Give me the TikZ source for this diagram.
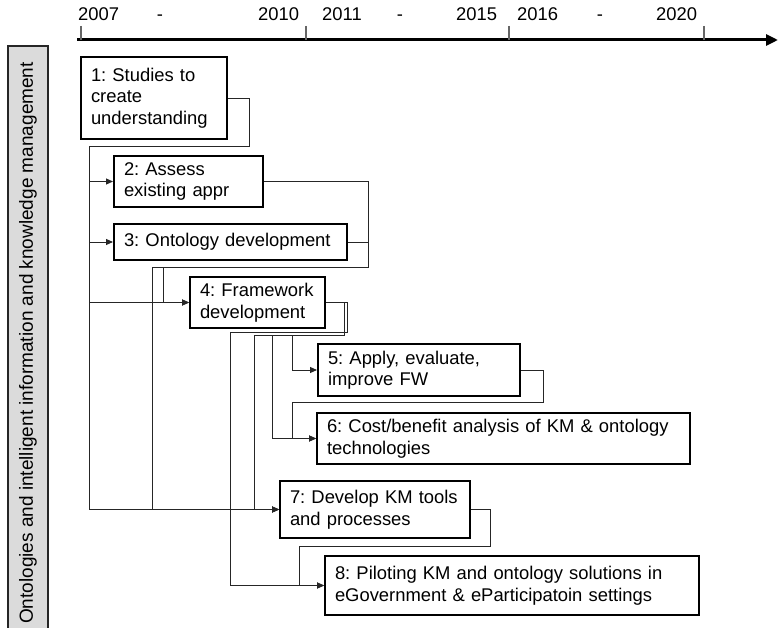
\documentclass[tikz,border=0pt]{standalone}
\usepackage{fontspec}
\setmainfont{Liberation Sans}
\usetikzlibrary{arrows.meta}
\begin{document}
\begin{tikzpicture}[x=1pt,y=-1pt,
  every node/.style={inner sep=0pt, font=\fontsize{18.4}{21.5}\selectfont},
  task/.style={draw=black, line width=2pt, fill=white, anchor=north west,
    align=left, inner xsep=10pt, inner ysep=0pt,
    execute at begin node={\frenchspacing\hyphenpenalty=10000\exhyphenpenalty=10000}},
  conn/.style={line width=0.9pt, draw=black!85},
  arr/.style={conn, -{Triangle[length=7pt,width=6pt]}},
  tickmark/.style={line width=1.6pt, draw=black!60},
  year/.style={anchor=base west},
  gap/.style={anchor=base},
  sidebar/.style={draw=black!85, line width=2pt, fill=black!14, rotate=90,
    minimum height=40pt, minimum width=594pt,
    font=\fontsize{19}{22}\selectfont}
]
\useasboundingbox (0,0) rectangle (778,628);
\clip (0,0) rectangle (778,628);

% time axis
\draw[line width=3pt, -{Triangle[length=12pt,width=11pt]}] (77,40) -- (778,40);
\foreach \x in {81,306,509,704} \draw[tickmark] (\x,26) -- (\x,40);
\node[year] (y2007) at (78,21) {2007};
\node[gap]  (g1)    at (160,21) {-};
\node[year] (y2010) at (258,21) {2010};
\node[year] (y2011) at (322,21) {2011};
\node[gap]  (g2)    at (400,21) {-};
\node[year] (y2015) at (456,21) {2015};
\node[year] (y2016) at (517,21) {2016};
\node[gap]  (g3)    at (600,21) {-};
\node[year] (y2020) at (656,21) {2020};

% research area label
\node[sidebar] (side) at (28,343) {Ontologies and intelligent information and knowledge management};

% tasks
\node[task, text width=126pt, minimum height=82pt] (b1) at (80,56)
  {1: Studies to\\create\\understanding};
\node[task, text width=129pt, minimum height=51pt] (b2) at (113,155)
  {2: Assess\\existing appr};
\node[task, text width=213pt, minimum height=36pt] (b3) at (113,223)
  {3: Ontology development};
\node[task, text width=115pt, minimum height=51pt] (b4) at (189,276)
  {4: Framework\\development};
\node[task, text width=182pt, minimum height=52pt] (b5) at (317,343)
  {5: Apply, evaluate,\\improve FW};
\node[task, text width=353pt, minimum height=51pt] (b6) at (316,412)
  {6: Cost/benefit analysis of KM \& ontology\\technologies};
\node[task, text width=170pt, minimum height=57pt] (b7) at (279,480)
  {7: Develop KM tools\\and processes};
\node[task, text width=354pt, minimum height=59pt] (b8) at (324,555)
  {8: Piloting KM and ontology solutions in\\eGovernment \& eParticipatoin settings};

% bends of the connectors
\coordinate (r1) at (249,146);
\coordinate (busA) at (89,146);
\coordinate (r2) at (368,267);
\coordinate (busB) at (152,267);
\coordinate (busC) at (163,267);
\coordinate (r4a) at (347,332);
\coordinate (bus8) at (230,332);
\coordinate (r4b) at (344,335);
\coordinate (t7) at (254,335);
\coordinate (t6) at (272,335);
\coordinate (t5) at (292,335);
\coordinate (r5) at (543,402);
\coordinate (t56) at (292,402);
\coordinate (r7) at (490,546);
\coordinate (t78) at (299,546);

% dependencies
\draw[arr] (b1.east) -| (r1) -- (busA) |- (b7.west);
\draw[arr] (busA |- b2.west) -- (b2.west);
\draw[arr] (busA |- b3.west) -- (b3.west);
\draw[arr] (busA |- b4.west) -- (b4.west);
\draw[arr] (b2.east) -| (r2) -- (busB) |- (b7.west);
\draw[conn] (b3.east) -| (r2);
\draw[arr] (busC) |- (b4.west);
\draw[arr] (b4.east) -| (r4a) -- (bus8) |- (b8.west);
\draw[conn] (b4.east) -| (r4b) -- (t7);
\draw[arr] (t7) |- (b7.west);
\draw[arr] (t6) |- (b6.west);
\draw[arr] (t5) |- (b5.west);
\draw[arr] (b5.east) -| (r5) -- (t56) |- (b6.west);
\draw[arr] (b7.east) -| (r7) -- (t78) |- (b8.west);
\end{tikzpicture}
\end{document}
